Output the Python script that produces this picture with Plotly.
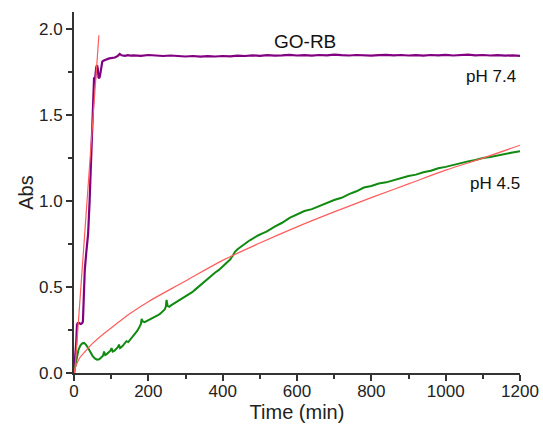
import plotly.graph_objects as go

# ---- data ----
x_ticks = [0, 200, 400, 600, 800, 1000, 1200]
y_ticks = [0.0, 0.5, 1.0, 1.5, 2.0]

# pH 7.4 kinetic trace (purple)
purple_t = [0, 3, 6, 8, 10, 14, 18, 22, 24, 26, 29, 33, 38, 42, 45, 47, 49, 51,
            52, 53, 54, 56, 58, 60, 62, 64, 66, 68, 70, 73, 76, 78, 82, 86, 90,
            95, 100, 110, 118, 123, 128, 137, 145, 152] + list(range(160, 1201, 20))
purple_v = [0.0, 0.08, 0.18, 0.28, 0.29, 0.29, 0.285, 0.29, 0.30, 0.42, 0.60, 0.70,
            0.81, 1.00, 1.17, 1.29, 1.45, 1.60, 1.56, 1.68, 1.72, 1.70, 1.75, 1.78,
            1.79, 1.77, 1.72, 1.715, 1.73, 1.78, 1.81, 1.815, 1.82, 1.822, 1.826,
            1.83, 1.832, 1.835, 1.845, 1.856, 1.848, 1.845, 1.849, 1.846,
            1.848, 1.845, 1.850, 1.846, 1.844, 1.847, 1.843, 1.841, 1.844, 1.840,
            1.843, 1.841, 1.844, 1.842, 1.846, 1.844, 1.848, 1.845, 1.849, 1.846,
            1.848, 1.851, 1.847, 1.849, 1.846, 1.850, 1.848, 1.852, 1.849, 1.847,
            1.850, 1.848, 1.846, 1.849, 1.851, 1.848, 1.850, 1.847, 1.849, 1.846,
            1.850, 1.848, 1.851, 1.847, 1.849, 1.852, 1.848, 1.850, 1.847, 1.849,
            1.846, 1.848, 1.845]

# pH 4.5 kinetic trace (green)
green_t = [0, 4, 8, 12, 17, 22, 27, 32, 38, 44, 50, 56, 62, 68, 74, 78, 81, 84,
           88, 93, 98, 101, 104, 109, 114, 118, 121, 124, 130, 136, 141, 146, 152,
           158, 164, 170, 176, 180, 182, 185, 190, 196, 202, 208, 214, 220, 226,
           232, 238, 244, 247, 249, 252, 256, 262, 270, 278, 286, 294, 302, 310,
           318, 326, 334, 342, 350, 360, 370, 380, 390, 400, 410, 420, 428, 433,
           440, 450, 462, 473, 485, 495, 507, 518] + list(range(540, 1201, 20))
green_v = [0.0, 0.05, 0.10, 0.135, 0.16, 0.172, 0.175, 0.165, 0.145, 0.12, 0.10,
           0.085, 0.078, 0.08, 0.09, 0.10, 0.125, 0.105, 0.11, 0.12, 0.13, 0.145,
           0.125, 0.13, 0.14, 0.15, 0.165, 0.145, 0.155, 0.17, 0.185, 0.18, 0.195,
           0.21, 0.228, 0.245, 0.268, 0.285, 0.315, 0.30, 0.296, 0.302, 0.31, 0.316,
           0.322, 0.33, 0.336, 0.345, 0.355, 0.37, 0.385, 0.425, 0.39, 0.385, 0.395,
           0.405, 0.415, 0.425, 0.435, 0.45, 0.46, 0.47, 0.485, 0.50, 0.515, 0.53,
           0.55, 0.565, 0.585, 0.60, 0.62, 0.64, 0.66, 0.685, 0.705, 0.72, 0.738,
           0.755, 0.772, 0.788, 0.80, 0.812, 0.822,
           0.852, 0.874, 0.902, 0.923, 0.942, 0.953, 0.972, 0.988, 1.006, 1.019,
           1.041, 1.057, 1.079, 1.088, 1.102, 1.109, 1.122, 1.131, 1.146, 1.154,
           1.168, 1.177, 1.191, 1.199, 1.211, 1.219, 1.231, 1.239, 1.251, 1.257,
           1.267, 1.273, 1.283, 1.29]

# fits (red)
fit74_t = [2, 67]
fit74_v = [0.0, 1.965]
fit45_t = [0, 5, 16, 30, 50, 75, 100, 150, 200, 300, 400, 500, 600, 700, 800,
           900, 1000, 1100, 1200]
fit45_v = [0.0, 0.04, 0.09, 0.125, 0.172, 0.22, 0.262, 0.345, 0.415, 0.535, 0.655,
           0.756, 0.85, 0.937, 1.02, 1.10, 1.18, 1.25, 1.325]

FONT = "Liberation Sans, Arial, Helvetica, sans-serif"
AX = "#333333"

fig = go.Figure()
fig.add_trace(go.Scatter(x=purple_t, y=purple_v, mode="lines",
                         line=dict(color="#800080", width=2.2), name="pH 7.4"))
fig.add_trace(go.Scatter(x=green_t, y=green_v, mode="lines",
                         line=dict(color="#108a10", width=2), name="pH 4.5"))
fig.add_trace(go.Scatter(x=fit74_t, y=fit74_v, mode="lines",
                         line=dict(color="#ff5c5c", width=1.2), name="fit 7.4"))
fig.add_trace(go.Scatter(x=fit45_t, y=fit45_v, mode="lines", line_shape="spline",
                         line=dict(color="#ff5c5c", width=1.2), name="fit 4.5"))

fig.update_layout(
    width=543, height=429,
    margin=dict(l=74, r=23, t=12, b=56),
    paper_bgcolor="white", plot_bgcolor="white",
    showlegend=False,
    font=dict(family=FONT, size=17, color="#222222"),
    xaxis=dict(
        range=[0, 1200], tickmode="array", tickvals=x_ticks,
        ticks="outside", ticklen=6, tickwidth=1.5, tickcolor=AX,
        ticklabelstandoff=-4,
        showline=True, linecolor=AX, linewidth=1.8,
        showgrid=False, zeroline=False, automargin=False,
        minor=dict(tick0=0, dtick=100, ticks="outside", ticklen=4,
                   tickwidth=1.5, tickcolor=AX, showgrid=False),
        title=dict(text="Time (min)", font=dict(size=20, family=FONT), standoff=1),
    ),
    yaxis=dict(
        range=[0, 2.1], tickmode="array", tickvals=y_ticks, tickformat=".1f",
        ticks="outside", ticklen=6, tickwidth=1.5, tickcolor=AX,
        showline=True, linecolor=AX, linewidth=1.8,
        showgrid=False, zeroline=False, automargin=False,
        minor=dict(tick0=0, dtick=0.25, ticks="outside", ticklen=4,
                   tickwidth=1.5, tickcolor=AX, showgrid=False),
        title=dict(text="Abs", font=dict(size=20, family=FONT), standoff=0),
    ),
    annotations=[
        dict(text="GO-RB", xref="paper", yref="paper", x=0.518, y=0.917,
             xanchor="center", yanchor="middle", showarrow=False,
             font=dict(size=19, family=FONT, color="#111")),
        dict(text="pH 7.4", xref="paper", yref="paper", x=0.996, y=0.82,
             xanchor="right", yanchor="middle", showarrow=False,
             font=dict(size=17, family=FONT, color="#111")),
        dict(text="pH 4.5", xref="paper", yref="paper", x=1.004, y=0.526,
             xanchor="right", yanchor="middle", showarrow=False,
             font=dict(size=17, family=FONT, color="#111")),
    ],
)

fig.write_html("out.html", config={"displayModeBar": False},
               post_script="document.body.style.margin='0px';document.body.style.overflow='hidden';")
